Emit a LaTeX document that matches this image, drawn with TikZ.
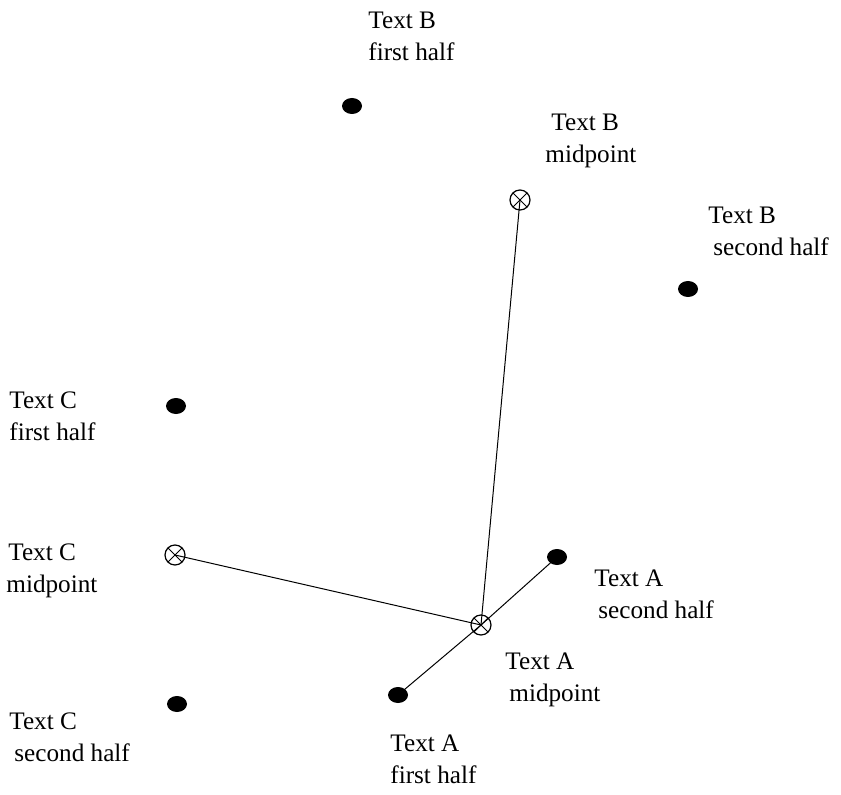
\documentclass[tikz,border=0pt]{standalone}
\usepackage{fontspec}
\setmainfont{Liberation Serif}
\usepackage{tikz}
\usetikzlibrary{shapes.geometric, positioning, calc}
\tikzstyle{dot} = [ellipse, fill=black, draw=none, minimum width=10pt, minimum height=8pt, inner sep=0pt]
\tikzstyle{midmark} = [circle, draw=black, line width=0.6pt, minimum size=10pt, inner sep=0pt,
  path picture={\draw[line width=0.5pt] (path picture bounding box.north west) -- (path picture bounding box.south east)
    (path picture bounding box.north east) -- (path picture bounding box.south west);}]
\tikzstyle{lbl} = [anchor=west, align=left, inner sep=0pt, font=\fontsize{12.6}{16}\selectfont]
\tikzstyle{link} = [line width=0.5pt]

\begin{document}
\begin{tikzpicture}[x=0.5pt, y=0.5pt]
    \useasboundingbox (0,0) rectangle (841,794);

    % Text B
    \node (b1) [dot] at (352,688) {};
    \node (bm) [midmark] at (520,594) {};
    \node (b2) [dot] at (688,505) {};
    \node (b1lbl) [lbl] at (368,758) {Text B\\first half};
    \node (bmlbl) [lbl] at (545,653) {\hspace*{3pt}Text B\\midpoint};
    \node (b2lbl) [lbl] at (708,563) {Text B\\\hspace*{2.5pt}second half};

    % Text C
    \node (c1) [dot] at (176,388) {};
    \node (cm) [midmark] at (175,239) {};
    \node (c2) [dot] at (177,90) {};
    \node (c1lbl) [lbl] at (9,378) {Text C\\first half};
    \node (cmlbl) [lbl] at (6,223) {\hspace*{1pt}Text C\\midpoint};
    \node (c2lbl) [lbl] at (9,57) {Text C\\\hspace*{2.5pt}second half};

    % Text A
    \node (a1) [dot] at (398,99) {};
    \node (am) [midmark] at (481,169) {};
    \node (a2) [dot] at (557,237) {};
    \node (a1lbl) [lbl] at (390,35) {Text A\\first half};
    \node (amlbl) [lbl] at (505,114) {Text A\\\hspace*{2pt}midpoint};
    \node (a2lbl) [lbl] at (594,200) {Text A\\\hspace*{2pt}second half};

    % Lines to the midpoint of A
    \draw [link] (bm.center) -- (am.center);
    \draw [link] (cm.center) -- (am.center);
    \draw [link] (a1.center) -- (am.center) -- (a2.center);

\end{tikzpicture}
\end{document}
